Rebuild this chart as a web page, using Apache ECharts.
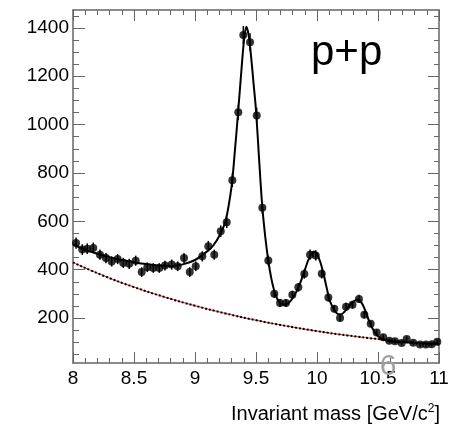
<!DOCTYPE html>
<html>
<head>
<meta charset="utf-8">
<script src="https://cdn.jsdelivr.net/npm/echarts@6/dist/echarts.min.js"></script>
<style>
  html, body { margin: 0; padding: 0; background: #fff; }
  #chart { width: 464px; height: 426px; }
</style>
</head>
<body>
<div id="chart"></div>
<script>
// data points (mass bin centre, counts, error)
var massPts = [8.025, 8.076, 8.117, 8.166, 8.221, 8.270, 8.317, 8.366, 8.412, 8.461,
  8.514, 8.563, 8.609, 8.658, 8.707, 8.754, 8.809, 8.858, 8.910, 8.957,
  9.006, 9.060, 9.109, 9.158, 9.211, 9.260, 9.306, 9.355, 9.396, 9.451,
  9.506, 9.552, 9.601, 9.650, 9.697, 9.746, 9.798, 9.847, 9.896, 9.943,
  9.990, 10.039, 10.093, 10.142, 10.189, 10.238, 10.291, 10.344, 10.388, 10.440,
  10.489, 10.543, 10.593, 10.639, 10.694, 10.735, 10.789, 10.844, 10.893, 10.940,
  10.986]
var counts = [510, 483, 487, 490, 462, 448, 434, 444, 428, 424,
  437, 390, 410, 407, 407, 417, 421, 414, 448, 390,
  414, 455, 497, 462, 559, 596, 770, 1051, 1371, 1341,
  1038, 656, 438, 300, 262, 262, 296, 327, 382, 462,
  459, 383, 285, 238, 200, 247, 255, 279, 214, 176,
  140, 121, 106, 104, 97, 113, 98, 90, 90, 92,
  102]
var errs = [23, 22, 22, 22, 21, 21, 21, 21, 21, 21,
  21, 20, 20, 20, 20, 20, 21, 20, 21, 20,
  20, 21, 22, 21, 24, 24, 28, 32, 37, 37,
  32, 26, 21, 17, 16, 16, 17, 18, 19, 21,
  21, 19, 17, 15, 14, 16, 16, 17, 15, 13,
  12, 11, 10, 10, 10, 11, 10, 9, 9, 10,
  10]

// total fit curve
var fitMass = [8.0, 8.1, 8.2, 8.3, 8.4, 8.5, 8.6, 8.7, 8.8, 8.9, 9.0,
  9.1, 9.15, 9.2, 9.25, 9.3, 9.325, 9.35, 9.375, 9.4, 9.42, 9.44, 9.46, 9.48, 9.5,
  9.525, 9.55, 9.575, 9.6, 9.625, 9.65, 9.675, 9.7, 9.725, 9.75,
  9.775, 9.8, 9.825, 9.85, 9.875, 9.9, 9.925, 9.95, 9.975, 10.0,
  10.025, 10.05, 10.075, 10.1, 10.125, 10.15, 10.175, 10.2, 10.225, 10.25,
  10.275, 10.3, 10.325, 10.35, 10.375, 10.4, 10.425, 10.45, 10.475, 10.5,
  10.55, 10.6, 10.7, 10.8, 10.9, 11.0]
var fitVals = [505, 482, 466, 452, 440, 431, 423, 417, 415, 422, 440,
  476, 500, 540, 600, 745, 880, 1030, 1190, 1340, 1405, 1370, 1280, 1170, 1060,
  860, 670, 540, 440, 365, 312, 279, 262, 255, 257,
  266, 282, 303, 330, 362, 398, 435, 462, 475, 465,
  435, 390, 335, 280, 248, 226, 216, 216, 226, 241,
  256, 268, 276, 272, 255, 225, 190, 162, 140, 125,
  110, 104, 100, 97, 95, 93]

// background curve
var bgMass = [8.0, 8.25, 8.5, 8.75, 9.0, 9.25, 9.5, 9.75, 10.0, 10.25, 10.5, 10.75, 11.0]
var bgVals = [430, 375, 328, 287, 251, 219, 191, 167, 146, 128, 113, 100, 90]

var yMajor = [200, 400, 600, 800, 1000, 1200, 1400]
var yMinor = [50, 100, 150, 250, 300, 350, 450, 500, 550, 650, 700, 750, 850, 900, 950,
  1050, 1100, 1150, 1250, 1300, 1350, 1450]

var FONT = 'Liberation Sans'
var axisCol = '#666'

function pairs (xs, ys) {
  return xs.map(function (x, i) { return [x, ys[i]] })
}

var xBase = {
  type: 'value', min: 8, max: 11, interval: 0.5,
  axisLine: { show: true, lineStyle: { color: axisCol, width: 1.5 } },
  axisTick: { show: true, inside: true, length: 11, lineStyle: { color: axisCol } },
  minorTick: { show: true, splitNumber: 5, length: 5, lineStyle: { color: axisCol } },
  splitLine: { show: false }
}

function yAxisOf (pos, ticks, len, labels, line) {
  return {
    type: 'value', position: pos, offset: 0, min: 14, max: 1474,
    axisLine: { show: line, lineStyle: { color: axisCol, width: 1.5 } },
    axisTick: { show: true, inside: true, length: len, customValues: ticks, lineStyle: { color: axisCol } },
    axisLabel: labels ? {
      show: true, customValues: ticks, margin: 4, color: '#000', fontSize: 19, fontFamily: FONT,
      formatter: function (v) { return String(v) }
    } : { show: false },
    splitLine: { show: false }
  }
}

var chart = echarts.init(document.getElementById('chart'))
chart.setOption({
  animation: false,
  grid: { left: 73, right: 25, top: 10, bottom: 63, outerBoundsMode: 'none' },
  xAxis: [
    Object.assign({}, xBase, {
      position: 'bottom',
      axisLabel: { show: true, margin: 6, color: '#000', fontSize: 19, fontFamily: FONT, showMinLabel: true, showMaxLabel: true }
    }),
    Object.assign({}, xBase, { position: 'top', axisLabel: { show: false } })
  ],
  yAxis: [
    yAxisOf('left', yMajor, 12, true, true),
    yAxisOf('left', yMinor, 6, false, false),
    yAxisOf('right', yMajor, 11, false, true),
    yAxisOf('right', yMinor, 5, false, false)
  ],
  series: [
    {
      name: 'bg-red', type: 'line', data: pairs(bgMass, bgVals), smooth: true,
      showSymbol: false, lineStyle: { color: '#e02020', width: 1 }, z: 1
    },
    {
      name: 'bg', type: 'line', data: pairs(bgMass, bgVals), smooth: true,
      showSymbol: false, lineStyle: { color: '#000', width: 2, type: 'dotted' }, z: 2
    },
    {
      name: 'fit', type: 'line', data: pairs(fitMass, fitVals), smooth: 0.3,
      showSymbol: false, lineStyle: { color: '#000', width: 2 }, z: 3
    },
    {
      name: 'err', type: 'custom', z: 4,
      data: massPts.map(function (m, i) { return [m, counts[i] - errs[i], counts[i] + errs[i]] }),
      renderItem: function (params, api) {
        var lo = api.coord([api.value(0), api.value(1)])
        var hi = api.coord([api.value(0), api.value(2)])
        return {
          type: 'line',
          shape: { x1: lo[0], y1: lo[1], x2: hi[0], y2: hi[1] },
          style: { stroke: '#000', lineWidth: 1.5 }
        }
      }
    },
    {
      name: 'data', type: 'scatter', data: pairs(massPts, counts),
      symbol: 'circle', symbolSize: 8, itemStyle: { color: '#000' }, z: 5
    }
  ],
  graphic: [
    {
      type: 'text', z: 10,
      style: { x: 311, y: 53, text: 'p+p', fontSize: 42, fontFamily: FONT, fill: '#000', verticalAlign: 'middle' }
    },
    {
      type: 'text', z: 10,
      style: { x: 388, y: 367, text: '6', fontSize: 30, fontFamily: FONT, fill: '#a0a0a0', align: 'center', verticalAlign: 'middle' }
    },
    {
      type: 'text', z: 10,
      style: {
        x: 440, y: 414, align: 'right', verticalAlign: 'middle',
        text: '{a|Invariant mass [GeV/c}{s|2}{a|]}',
        rich: {
          a: { fontSize: 20, fontFamily: FONT, fill: '#000', color: '#000' },
          s: { fontSize: 12, fontFamily: FONT, fill: '#000', color: '#000', verticalAlign: 'top', padding: [0, 0, 10, 0] }
        }
      }
    }
  ]
})
</script>
</body>
</html>
